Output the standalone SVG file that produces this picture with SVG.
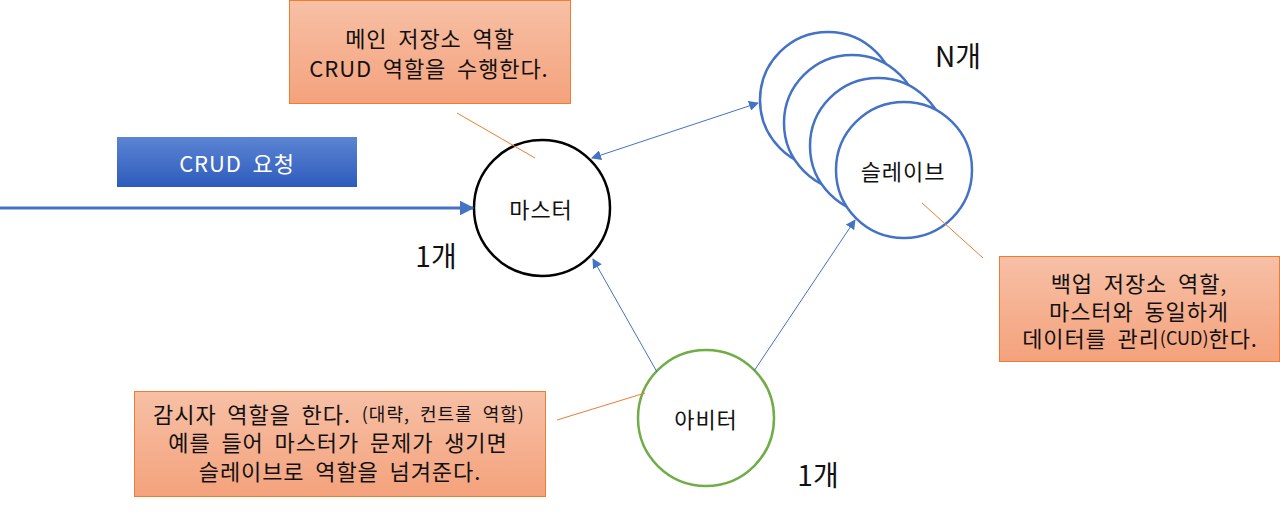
<svg xmlns="http://www.w3.org/2000/svg" width="1280" height="512" viewBox="0 0 1280 512">
<defs>
<linearGradient id="gBlue" x1="0" y1="0" x2="0" y2="1">
<stop offset="0" stop-color="#5b84d3"/>
<stop offset="1" stop-color="#2e5cbc"/>
</linearGradient>
<linearGradient id="gOrange" x1="0" y1="0" x2="0" y2="1">
<stop offset="0" stop-color="#f7c0a6"/>
<stop offset="1" stop-color="#f4a27c"/>
</linearGradient>
<marker id="ah" viewBox="0 0 10 10" refX="9" refY="5" markerWidth="10" markerHeight="10" markerUnits="userSpaceOnUse" orient="auto-start-reverse">
<path d="M0,0 L10,5 L0,10 z" fill="#4472c4"/>
</marker>
<marker id="ahBig" viewBox="0 0 10 10" refX="9" refY="5" markerWidth="5" markerHeight="5" orient="auto">
<path d="M0,0 L10,5 L0,10 z" fill="#4472c4"/>
</marker>
</defs>
<style>
text{font-family:"Malgun Gothic","Noto Sans CJK KR","Noto Sans",sans-serif;fill:#111;}
.t{font-size:22px;letter-spacing:0.9px;text-anchor:middle;dominant-baseline:central;word-spacing:5px;}
.big{font-size:28px;text-anchor:middle;dominant-baseline:central;}
.callout{fill:url(#gOrange);stroke:#ed7d31;stroke-width:1;}
.lead{stroke:#ed7d31;stroke-width:1;fill:none;}
.conn{stroke:#4472c4;stroke-width:1;fill:none;}
.slave{fill:#fff;stroke:#4472c4;stroke-width:2.5;}
</style>
<rect width="1280" height="512" fill="#fff"/>

<g id="crud-request">
<rect x="117" y="137" width="240" height="50" fill="url(#gBlue)"/>
<text class="t" x="237" y="162" style="fill:#fff">CRUD 요청</text>
</g>

<g id="master">
<circle cx="542" cy="208" r="68" fill="#fff" stroke="#000" stroke-width="2.5"/>
<text class="t" x="541" y="208">마스터</text>
</g>
<g id="master-count"><text class="big" x="436" y="255">1개</text></g>

<g id="slaves">
<circle class="slave" cx="828" cy="100" r="68"/>
<circle class="slave" cx="852" cy="123" r="68"/>
<circle class="slave" cx="878" cy="146" r="68"/>
<circle class="slave" cx="904" cy="170" r="68"/>
<text class="t" x="903" y="170">슬레이브</text>
</g>
<g id="slave-count"><text class="big" x="958" y="55">N개</text></g>

<g id="arbiter">
<circle cx="706" cy="418" r="68" fill="#fff" stroke="#70ad47" stroke-width="2.5"/>
<text class="t" x="706" y="418">아비터</text>
</g>
<g id="arbiter-count"><text class="big" x="818" y="474">1개</text></g>

<g id="callout-master">
<rect class="callout" x="289.5" y="0.5" width="281" height="103"/>
<text class="t" x="430" y="37">메인 저장소 역할</text>
<text class="t" x="429" y="67">CRUD 역할을 수행한다.</text>
</g>

<g id="callout-slave">
<rect class="callout" x="999.5" y="256.5" width="280" height="105"/>
<text class="t" x="1139" y="282">백업 저장소 역할,</text>
<text class="t" x="1139" y="310">마스터와 동일하게</text>
<text class="t" x="1140" y="337">데이터를 관리<tspan style="font-size:18px;letter-spacing:0">(CUD)</tspan>한다.</text>
</g>

<g id="callout-arbiter">
<rect class="callout" x="134.5" y="391.5" width="411" height="105"/>
<text class="t" x="339" y="413">감시자 역할을 한다. <tspan style="font-size:18px;letter-spacing:1px">(대략, 컨트롤 역할)</tspan></text>
<text class="t" x="338" y="441">예를 들어 마스터가 문제가 생기면</text>
<text class="t" x="340" y="470">슬레이브로 역할을 넘겨준다.</text>
</g>

<g id="connectors">
<line x1="0" y1="208" x2="473" y2="208" stroke="#4472c4" stroke-width="3" marker-end="url(#ahBig)"/>
<line class="conn" x1="592" y1="158" x2="758" y2="103" marker-start="url(#ah)" marker-end="url(#ah)"/>
<line class="conn" x1="657" y1="372" x2="593" y2="259" marker-end="url(#ah)"/>
<line class="conn" x1="754" y1="371" x2="855" y2="220" marker-end="url(#ah)"/>
<line class="lead" x1="457" y1="113" x2="535" y2="158"/>
<line class="lead" x1="922" y1="203" x2="983" y2="258"/>
<line class="lead" x1="557" y1="420" x2="645" y2="393"/>
</g>
</svg>
